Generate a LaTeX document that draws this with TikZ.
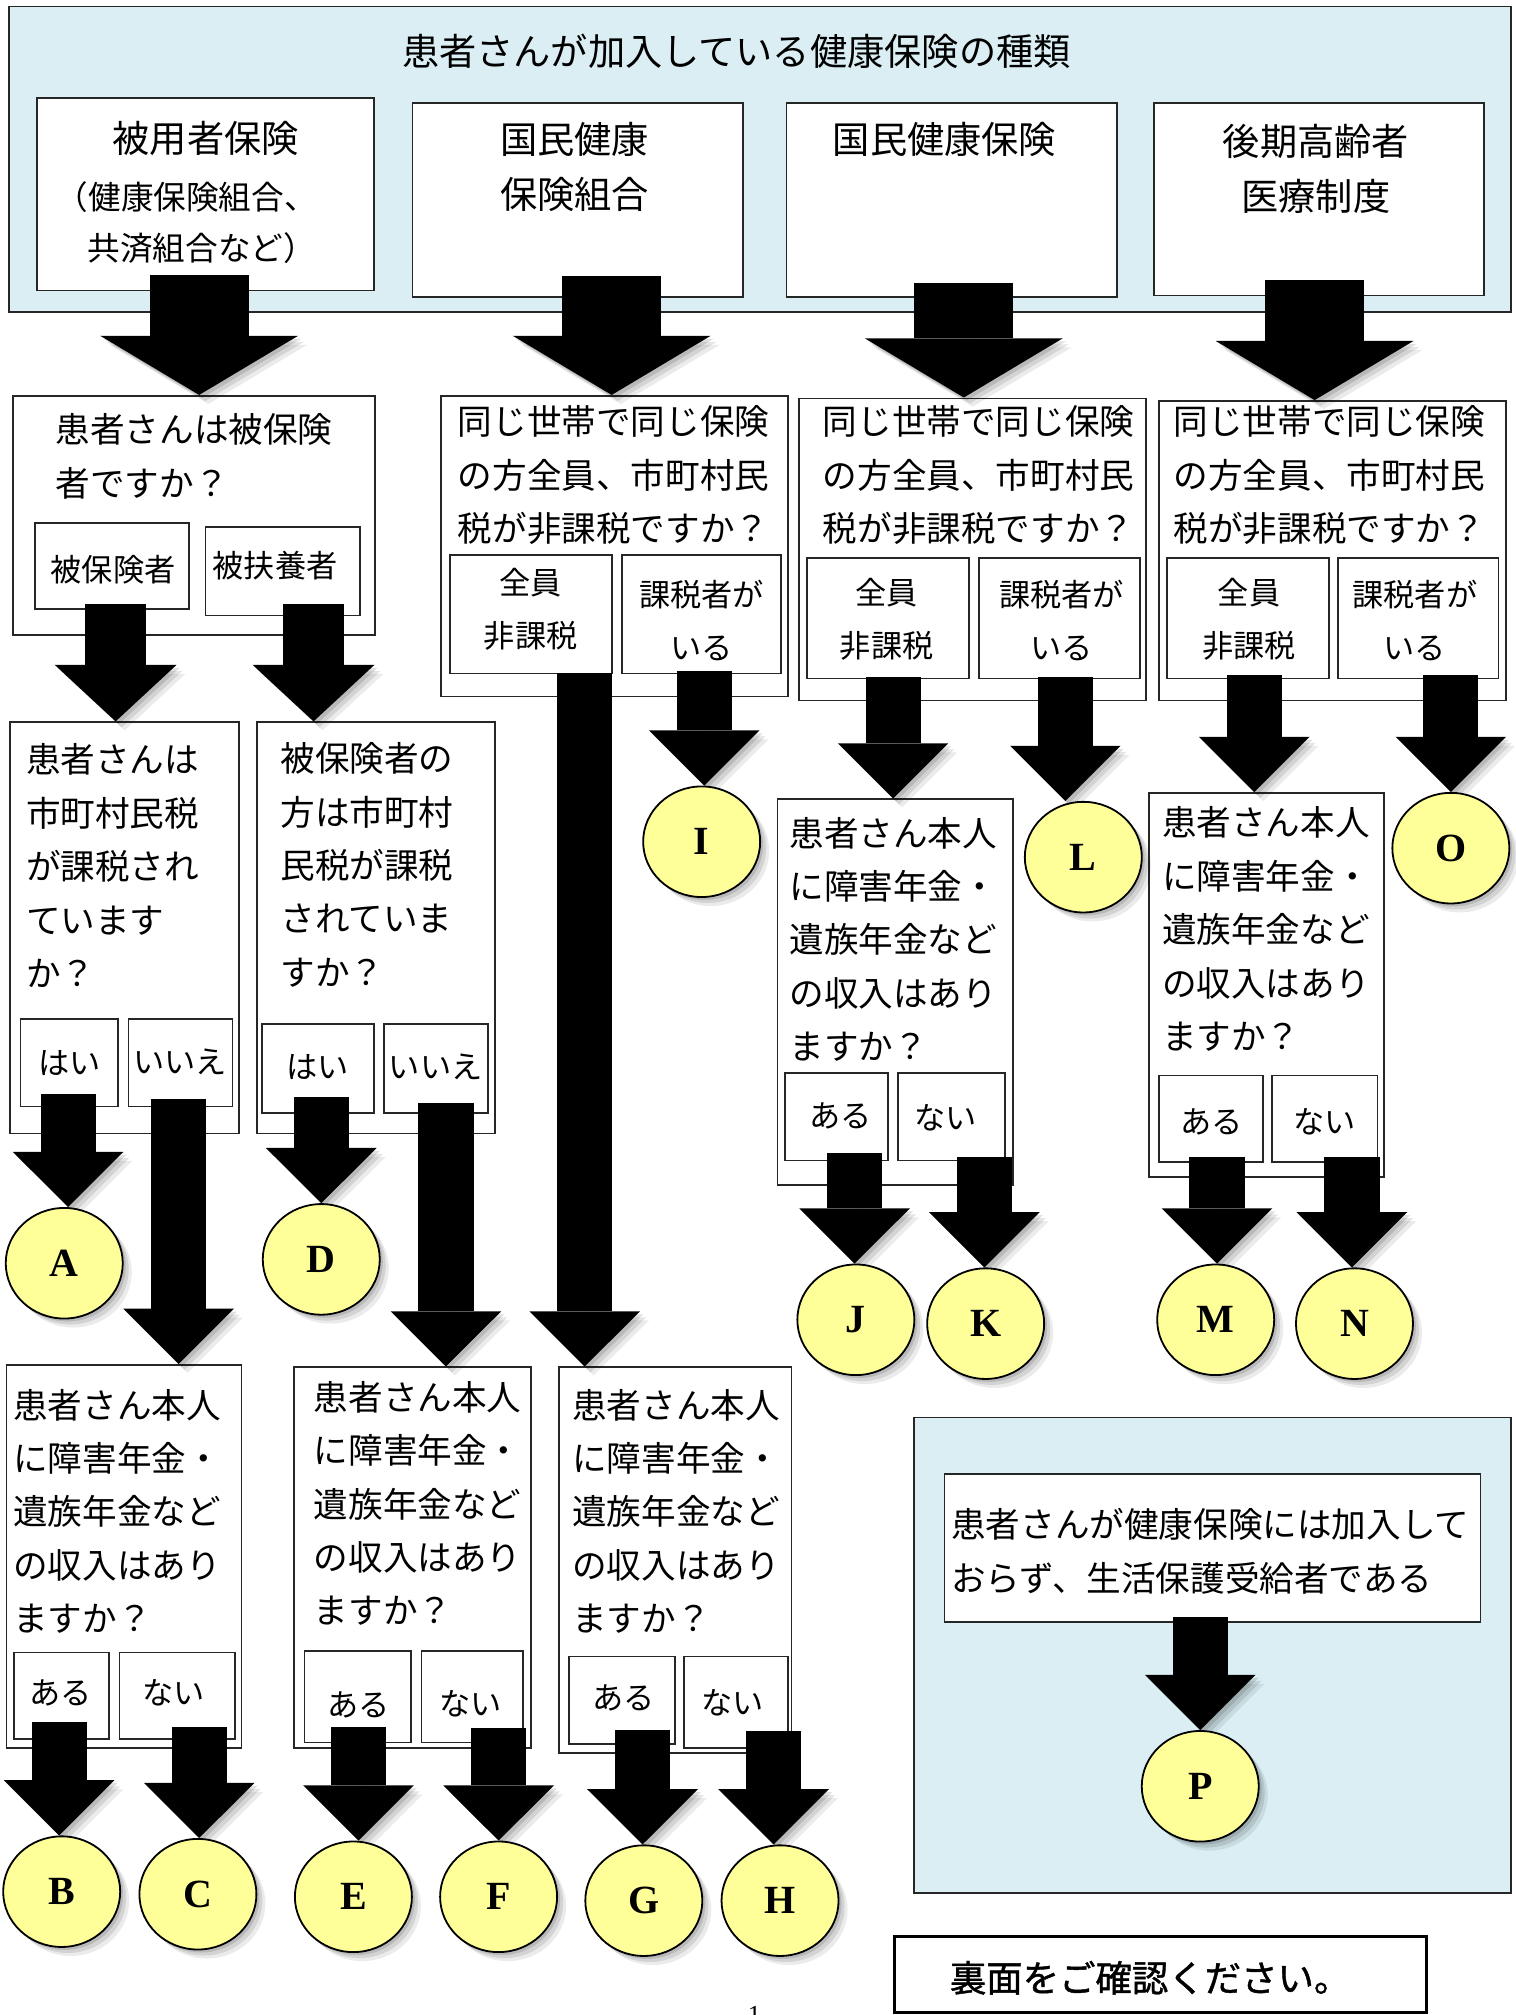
\documentclass[tikz,border=0pt]{standalone}
\usepackage{fontspec}
\setmainfont{Liberation Serif}
\newfontfamily\jp{Noto Sans CJK JP}
\newfontfamily\jpb[FakeBold=1.2]{Noto Sans CJK JP}
\usetikzlibrary{arrows.meta,shapes.geometric,fit}
\definecolor{panelblue}{HTML}{DAEEF3}
\definecolor{circyellow}{HTML}{FFFF99}
\pgfdeclarelayer{arr}
\pgfdeclarelayer{fg}
\pgfsetlayers{main,arr,fg}
\tikzset{
  panel/.style={draw=black!85, line width=0.9pt, fill=panelblue, inner sep=0pt},
  box/.style={draw=black!85, line width=0.85pt, fill=white, inner sep=0pt},
  subbox/.style={draw=black!85, line width=0.85pt, fill=white, inner sep=0pt},
  bodytxt/.style={font=\jp\fontsize{17.3}{26.7}\selectfont, inner sep=0pt, align=left, anchor=north west},
  headtxt/.style={font=\jp\fontsize{18.6}{27.6}\selectfont, inner sep=0pt, align=center, anchor=north},
  paren/.style={font=\jp\fontsize{16.3}{16.3}\selectfont, inner sep=0pt, anchor=center},
  subtxt/.style={font=\jp\fontsize{15.6}{26.5}\selectfont, inner sep=0pt, align=center, anchor=north},
  subc/.style={subtxt, anchor=center},
  softshadow/.style={
    preaction={fill=black, opacity=0.08, transform canvas={shift={(4.5pt,-4.5pt)}}},
    preaction={fill=black, opacity=0.10, transform canvas={shift={(3pt,-3pt)}}},
    preaction={fill=black, opacity=0.12, transform canvas={shift={(1.5pt,-1.5pt)}}}},
  arrshadow/.style={
    preaction={draw=black, opacity=0.08, transform canvas={shift={(4.5pt,-4.5pt)}}},
    preaction={draw=black, opacity=0.10, transform canvas={shift={(3pt,-3pt)}}},
    preaction={draw=black, opacity=0.12, transform canvas={shift={(1.5pt,-1.5pt)}}}},
  circ/.style={ellipse, draw=black, line width=0.9pt, fill=circyellow,
    minimum width=58.5pt, minimum height=55.3pt, inner sep=0pt,
    font=\bfseries\fontsize{20}{20}\selectfont, softshadow},
  bigarr/.style={arrshadow, draw=black, line width=49.5pt,
    -{Triangle[width=99pt, length=29.6pt, line width=0pt]}},
  midarr/.style={arrshadow, draw=black, line width=30.8pt,
    -{Triangle[width=61pt, length=28.3pt, line width=0pt]}},
  smallarr/.style={arrshadow, draw=black, line width=27.6pt,
    -{Triangle[width=55.3pt, length=27.6pt, line width=0pt]}},
}
\begin{document}
\begin{tikzpicture}[x=0.6425pt, y=-0.6425pt]
\useasboundingbox (0,0) rectangle (1179,1568);

% ---------- top banner ----------
\node[panel, fit={(7,5)(1176,243)}] (banner) {};
\node[headtxt, anchor=center] (title) at (573,40) {患者さんが加入している健康保険の種類};

\node[box, fit={(29,76)(291,226)}] (t1) {};
\node[headtxt, anchor=center] (t1a) at (160,108) {被用者保険};
\node[paren] (t1b) at (145,153) {（健康保険組合、};
\node[paren] (t1c) at (157,193) {共済組合など）};

\node[box, fit={(321,80)(578,231)}] (t2) {};
\node[headtxt] (t2a) at (447,95) {国民健康\\保険組合};

\node[box, fit={(612,80)(869,231)}] (t3) {};
\node[headtxt] (t3a) at (735,95) {国民健康保険};

\node[box, fit={(898,80)(1155,230)}] (t4) {};
\node[headtxt] (t4a) at (1024,96) {後期高齢者\\医療制度};

% ---------- row 2 ----------
\node[box, fit={(10,308)(292,494)}] (q1) {};
\node[bodytxt] (q1t) at (43,321.5) {患者さんは被保険\\者ですか？};
\node[subbox, fit={(27,407)(147,474)}] (q1y) {};
\node[subc] (q1yt) at (88,443) {被保険者};
\node[subbox, fit={(160,410)(280,479)}] (q1n) {};
\node[subc] (q1nt) at (214,440) {被扶養者};

\node[box, fit={(343,308)(613,542)}] (q2) {};
\node[bodytxt] (q2t) at (356,315.5) {同じ世帯で同じ保険\\の方全員、市町村民\\税が非課税ですか？};
\node[subbox, fit={(350,432)(476,524)}] (q2y) {};
\node[subtxt] (q2yt) at (413,442) {全員\\非課税};
\node[subbox, fit={(484,432)(608,524)}] (q2n) {};
\node[subtxt] (q2nt) at (546,451) {課税者が\\いる};

\node[box, fit={(622,310)(892,545)}] (q3) {};
\node[bodytxt] (q3t) at (640,315.5) {同じ世帯で同じ保険\\の方全員、市町村民\\税が非課税ですか？};
\node[subbox, fit={(628,434)(754,528)}] (q3y) {};
\node[subtxt] (q3yt) at (690,450) {全員\\非課税};
\node[subbox, fit={(762,434)(887,528)}] (q3n) {};
\node[subtxt] (q3nt) at (826,451) {課税者が\\いる};

\node[box, fit={(902,312)(1172,545)}] (q4) {};
\node[bodytxt] (q4t) at (913,315.5) {同じ世帯で同じ保険\\の方全員、市町村民\\税が非課税ですか？};
\node[subbox, fit={(908,434)(1034,528)}] (q4y) {};
\node[subtxt] (q4yt) at (972,450) {全員\\非課税};
\node[subbox, fit={(1041,434)(1166,528)}] (q4n) {};
\node[subtxt] (q4nt) at (1101,451) {課税者が\\いる};

% ---------- row 3 ----------
\node[box, fit={(8,562)(186,882)}] (r1) {};
\node[bodytxt] (r1t) at (20,578.5) {患者さんは\\市町村民税\\が課税され\\ています\\か？};
\node[subbox, fit={(16,793)(92,861)}] (r1y) {};
\node[subc] (r1yt) at (54,827) {はい};
\node[subbox, fit={(100,793)(181,861)}] (r1n) {};
\node[subc] (r1nt) at (140,826) {いいえ};

\node[box, fit={(200,562)(385,882)}] (r2) {};
\node[bodytxt] (r2t) at (218,577.5) {被保険者の\\方は市町村\\民税が課税\\されていま\\すか？};
\node[subbox, fit={(204,797)(291,866)}] (r2y) {};
\node[subc] (r2yt) at (247,830) {はい};
\node[subbox, fit={(299,797)(380,866)}] (r2n) {};
\node[subc] (r2nt) at (339,830) {いいえ};

\node[box, fit={(605,622)(788,922)}] (r3) {};
\node[bodytxt] (r3t) at (614,635.5) {患者さん本人\\に障害年金・\\遺族年金など\\の収入はあり\\ますか？};
\node[subbox, fit={(611,835)(691,903)}] (r3y) {};
\node[subc] (r3yt) at (654,868) {ある};
\node[subbox, fit={(699,835)(782,903)}] (r3n) {};
\node[subc] (r3nt) at (736,870) {ない};

\node[box, fit={(894,617)(1077,916)}] (r4) {};
\node[bodytxt] (r4t) at (904,627.5) {患者さん本人\\に障害年金・\\遺族年金など\\の収入はあり\\ますか？};
\node[subbox, fit={(902,837)(983,904)}] (r4y) {};
\node[subc] (r4yt) at (943,873) {ある};
\node[subbox, fit={(990,837)(1072,904)}] (r4n) {};
\node[subc] (r4nt) at (1031,873) {ない};

% ---------- row 4 ----------
\node[box, fit={(5,1062)(188,1360)}] (s1) {};
\node[bodytxt] (s1t) at (10,1080.5) {患者さん本人\\に障害年金・\\遺族年金など\\の収入はあり\\ますか？};
\node[subbox, fit={(11,1286)(85,1353)}] (s1y) {};
\node[subc] (s1yt) at (47,1317) {ある};
\node[subbox, fit={(93,1286)(183,1353)}] (s1n) {};
\node[subc] (s1nt) at (135,1317) {ない};

\node[box, fit={(229,1064)(413,1360)}] (s2) {};
\node[bodytxt] (s2t) at (244,1074.5) {患者さん本人\\に障害年金・\\遺族年金など\\の収入はあり\\ますか？};
\node[subbox, fit={(237,1285)(320,1356)}] (s2y) {};
\node[subc] (s2yt) at (279,1327) {ある};
\node[subbox, fit={(328,1285)(407,1356)}] (s2n) {};
\node[subc] (s2nt) at (366,1326) {ない};

\node[box, fit={(435,1064)(616,1364)}] (s3) {};
\node[bodytxt] (s3t) at (445,1080.5) {患者さん本人\\に障害年金・\\遺族年金など\\の収入はあり\\ますか？};
\node[subbox, fit={(443,1289)(525,1357)}] (s3y) {};
\node[subc] (s3yt) at (485,1321) {ある};
\node[subbox, fit={(532,1289)(613,1360)}] (s3n) {};
\node[subc] (s3nt) at (570,1325) {ない};

% ---------- bottom right panel ----------
\node[panel, fit={(711,1103)(1176,1473)}] (pp) {};
\node[box, fit={(735,1147)(1152,1262)}] (pbox) {};
\node[bodytxt] (pboxt) at (740,1173.5) {患者さんが健康保険には加入して\\おらず、生活保護受給者である};

% ---------- footer ----------
\node[draw=black, line width=1.4pt, fill=white, inner sep=0pt, fit={(696,1507)(1110,1566)}] (foot) {};
\node[font=\jpb\fontsize{18.2}{18.2}\selectfont, inner sep=0pt] (foott) at (895,1539) {裏面をご確認ください。};
\node[font=\fontsize{13}{13}\selectfont, anchor=north, inner sep=0pt] (pg) at (587,1561) {1};

% ---------- result circles ----------
\begin{pgfonlayer}{fg}
\node[circ] (A) at (50,983) {A};
\node[circ] (D) at (250,980) {D};
\node[circ] (I) at (546,655) {I};
\node[circ] (L) at (843,667) {L};
\node[circ] (O) at (1129,660) {O};
\node[circ] (J) at (666,1027) {J};
\node[circ] (K) at (767,1030) {K};
\node[circ] (M) at (946,1027) {M};
\node[circ] (N) at (1054,1030) {N};
\node[circ] (B) at (48,1472) {B};
\node[circ] (C) at (154,1474) {C};
\node[circ] (E) at (275,1476) {E};
\node[circ] (F) at (388,1476) {F};
\node[circ] (G) at (501,1479) {G};
\node[circ] (H) at (607,1479) {H};
\node[circ] (P) at (934,1390) {P};
\end{pgfonlayer}

% ---------- block arrows ----------
\begin{pgfonlayer}{arr}
\coordinate (a1s) at (155,214);
\coordinate (a2s) at (476,215);
\coordinate (a3s) at (750,220);
\coordinate (a4s) at (1023,218);
\draw[bigarr] (a1s) -- (a1s |- q1.north);
\draw[bigarr] (a2s) -- (a2s |- q2.north);
\draw[bigarr] (a3s) -- (a3s |- q3.north);
\draw[bigarr] (a4s) -- (a4s |- q4.north);

\coordinate (b1s) at (90,470);
\coordinate (b2s) at (244,470);
\coordinate (b3s) at (455,524);
\coordinate (b4s) at (548,522);
\coordinate (b5s) at (695,527);
\coordinate (b6s) at (829,527);
\coordinate (b7s) at (976,525);
\coordinate (b8s) at (1129,525);
\draw[midarr] (b1s) -- (b1s |- r1.north);
\draw[midarr] (b2s) -- (b2s |- r2.north);
\draw[smallarr] (b3s) -- (b3s |- s3.north);
\draw[smallarr] (b4s) -- (b4s |- I.north);
\draw[smallarr] (b5s) -- (b5s |- r3.north);
\draw[smallarr] (b6s) -- (b6s |- L.north);
\draw[smallarr] (b7s) -- (b7s |- r4.north);
\draw[smallarr] (b8s) -- (b8s |- O.north);

\coordinate (c1s) at (53,851);
\coordinate (c2s) at (139,855);
\coordinate (c3s) at (250,854);
\coordinate (c4s) at (347,858);
\coordinate (c5s) at (665,897);
\coordinate (c6s) at (766,900);
\coordinate (c7s) at (947,900);
\coordinate (c8s) at (1052,900);
\draw[smallarr] (c1s) -- (c1s |- A.north);
\draw[smallarr] (c2s) -- (c2s |- s1.north);
\draw[smallarr] (c3s) -- (c3s |- D.north);
\draw[smallarr] (c4s) -- (c4s |- s2.north);
\draw[smallarr] (c5s) -- (c5s |- J.north);
\draw[smallarr] (c6s) -- (c6s |- K.north);
\draw[smallarr] (c7s) -- (c7s |- M.north);
\draw[smallarr] (c8s) -- (c8s |- N.north);

\coordinate (d1s) at (46,1340);
\coordinate (d2s) at (155,1344);
\coordinate (d3s) at (279,1344);
\coordinate (d4s) at (388,1345);
\coordinate (d5s) at (500,1346);
\coordinate (d6s) at (602,1347);
\draw[smallarr] (d1s) -- (d1s |- B.north);
\draw[smallarr] (d2s) -- (d2s |- C.north);
\draw[smallarr] (d3s) -- (d3s |- E.north);
\draw[smallarr] (d4s) -- (d4s |- F.north);
\draw[smallarr] (d5s) -- (d5s |- G.north);
\draw[smallarr] (d6s) -- (d6s |- H.north);

\coordinate (e1s) at (934,1258);
\draw[smallarr] (e1s) -- (e1s |- P.north);
\end{pgfonlayer}
\end{tikzpicture}
\end{document}
